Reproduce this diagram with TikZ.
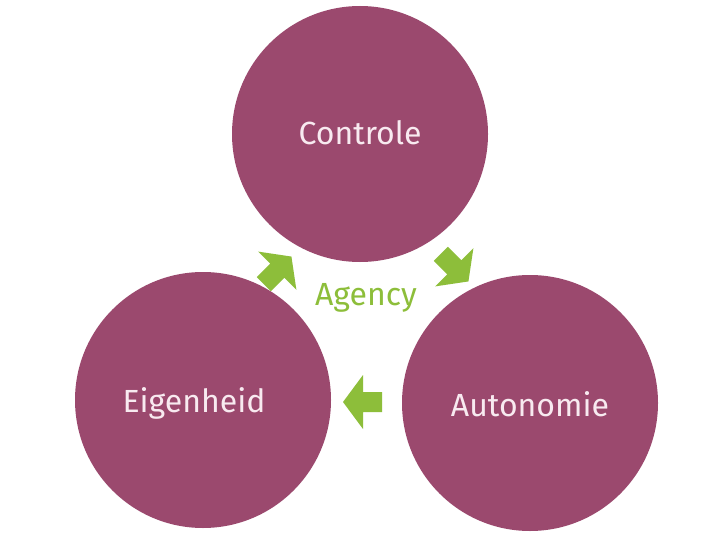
\documentclass[tikz,border=0pt]{standalone}
\usepackage{fontspec}
\setmainfont{Fira Sans}
\definecolor{plum}{HTML}{9B496E}
\definecolor{leaf}{HTML}{8DBE3A}
\definecolor{pale}{HTML}{F8EAF0}
\begin{document}
\begin{tikzpicture}[x=1pt,y=-1pt,
  blob/.style={circle,fill=plum,minimum size=256pt,inner sep=0pt},
  lbl/.style={text=pale,font=\fontsize{32}{36}\selectfont},
  agencylbl/.style={text=leaf,font=\fontsize{32}{36}\selectfont},
  blockarrow/.style={fill=leaf}]
\useasboundingbox[fill=white] (0,0) rectangle (720,540);
\node[blob] (ctrl) at (360,134) {};
\node[blob] (eig) at (203,400) {};
\node[blob] (aut) at (530,403) {};
\node[lbl] (tctrl) at (360,133) {Controle};
\node[lbl] (teig) at (194,403) {Eigenheid};
\node[lbl] (taut) at (530,404) {Autonomie};
\node[agencylbl] (tag) at (366,298) {Agency};
\coordinate (a1) at (278,270);
\coordinate (a2) at (455,268);
\coordinate (a3) at (362,402);
\foreach \c/\r in {a1/45,a2/-45,a3/180}{
  \fill[blockarrow,shift={(\c)},rotate=\r]
    (19,0) -- (-1,-27) -- (-1,-10) -- (-20,-10) -- (-20,10) -- (-1,10) -- (-1,27) -- cycle;
}
\end{tikzpicture}
\end{document}
